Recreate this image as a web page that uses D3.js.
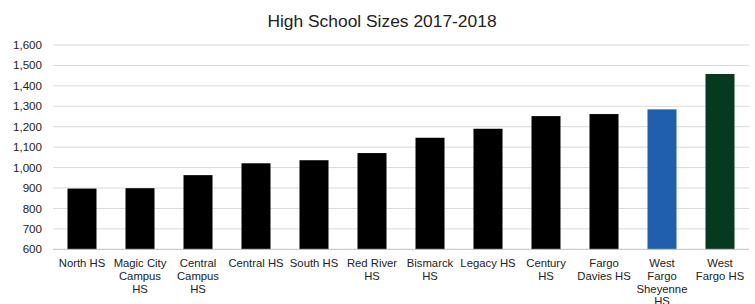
<!DOCTYPE html>
<html><head><meta charset="utf-8">
<script src="https://cdn.jsdelivr.net/npm/d3@7"></script>
<style>body{margin:0;background:#fff;} text{font-family:"Liberation Sans",Arial,sans-serif;}</style>
</head><body><svg id="c" width="755" height="304"></svg>
<script>
const categories = ["North HS","Magic City Campus HS","Central Campus HS","Central HS","South HS","Red River HS","Bismarck HS","Legacy HS","Century HS","Fargo Davies HS","West Fargo Sheyenne HS","West Fargo HS"];
const labelLines = [["North HS"],["Magic City","Campus","HS"],["Central","Campus","HS"],["Central HS"],["South HS"],["Red River","HS"],["Bismarck","HS"],["Legacy HS"],["Century","HS"],["Fargo","Davies HS"],["West","Fargo","Sheyenne","HS"],["West","Fargo HS"]];
const values = [897, 899, 963, 1021, 1036, 1071, 1146, 1190, 1252, 1262, 1285, 1458];
const barColors = ["#000","#000","#000","#000","#000","#000","#000","#000","#000","#000","#1f5fae","#063a1f"];
const yTicks = [600,700,800,900,1000,1100,1200,1300,1400,1500,1600];
const title = "High School Sizes 2017-2018";

const svg = d3.select("#c");
const mLeft = 53, mRight = 749, mTop = 45, mBottom = 249.3;
const x = d3.scaleBand().domain(categories).range([mLeft, mRight]).paddingInner(0.5).paddingOuter(0.25);
const y = d3.scaleLinear().domain([600,1600]).range([mBottom, mTop]);
const fmt = d3.format(",");

svg.append("text").attr("x", 382).attr("y", 26.5).attr("text-anchor","middle")
  .attr("font-size","17.4px").attr("fill","#222").text(title);

svg.append("g").selectAll("line").data(yTicks.slice(1)).join("line")
  .attr("x1", mLeft).attr("x2", mRight).attr("y1", d=>y(d)).attr("y2", d=>y(d))
  .attr("stroke","#d9d9d9").attr("stroke-width",1);

svg.append("g").selectAll("text").data(yTicks).join("text")
  .attr("x", 42).attr("y", d=>y(d)).attr("dy","0.35em").attr("text-anchor","end")
  .attr("font-size","11.6px").attr("fill","#222").text(d=>fmt(d));

svg.append("g").selectAll("rect").data(values).join("rect")
  .attr("x",(d,i)=>x(categories[i])).attr("width", x.bandwidth())
  .attr("y", d=>y(d)).attr("height", d=>y(600)-y(d))
  .attr("fill",(d,i)=>barColors[i]);

svg.append("line").attr("x1",mLeft).attr("x2",mRight).attr("y1",mBottom).attr("y2",mBottom)
  .attr("stroke","#bfbfbf").attr("stroke-width",1);

const xl = svg.append("g").selectAll("text").data(categories).join("text")
  .attr("text-anchor","middle").attr("font-size","11.3px").attr("fill","#222")
  .attr("x", d=>x(d)+x.bandwidth()/2).attr("y", 267);
xl.each(function(d,i){
  const t = d3.select(this);
  labelLines[i].forEach((ln,j)=>{
    t.append("tspan").attr("x", x(d)+x.bandwidth()/2).attr("dy", j===0?0:12.8).text(ln);
  });
});
</script></body></html>
